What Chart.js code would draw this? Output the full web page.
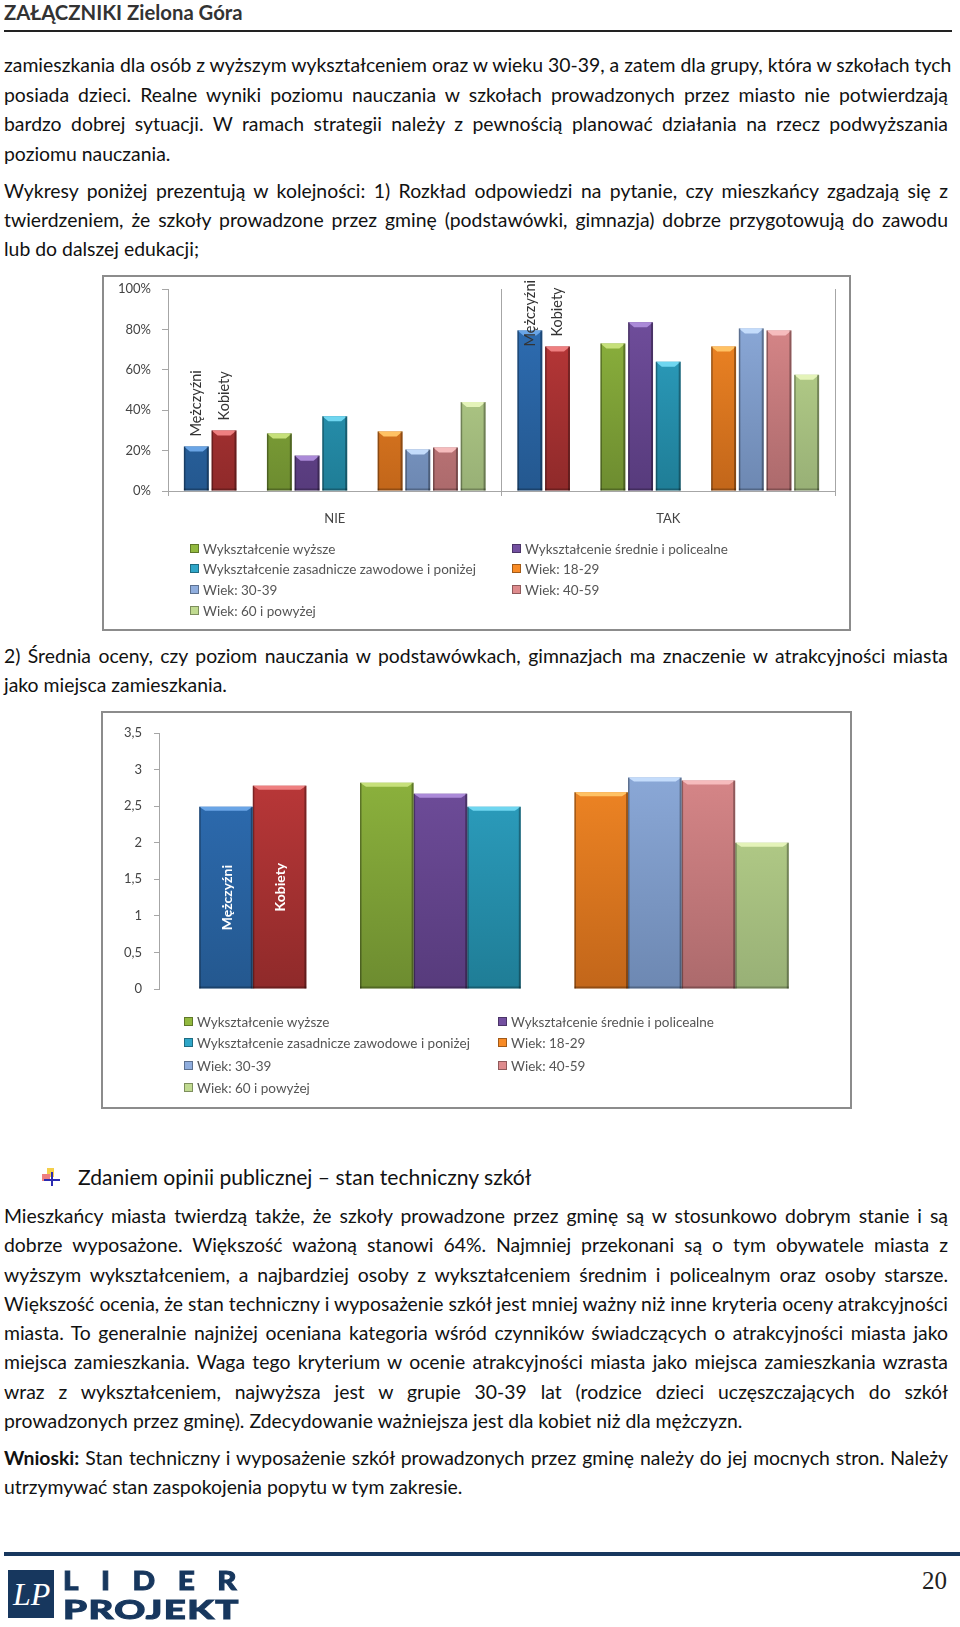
<!DOCTYPE html>
<html lang="pl">
<head>
<meta charset="utf-8">
<title>Załączniki Zielona Góra</title>
<script src="https://cdn.jsdelivr.net/npm/chart.js@4"></script>
<style>
  html, body { margin:0; padding:0; background:#fff; }
  #page { position:relative; width:960px; height:1627px; overflow:hidden; font-family:Lato, sans-serif; color:#111; }
  .line { position:absolute; left:4px; width:944px; font-size:19.4px; line-height:26px; height:26px; white-space:nowrap; }
  .just { text-align:justify; text-align-last:justify; }
  .frame { position:absolute; box-sizing:border-box; border:2px solid #8c8c8c; background:#fff; }
  .frame canvas { position:absolute; left:-2px; top:-2px; }
  .leg { position:absolute; font-size:13.5px; line-height:16px; color:#555; white-space:nowrap; }
  .leg i { position:absolute; left:-13px; top:3px; width:9px; height:9px; border:1px solid rgba(0,0,0,.35); box-sizing:border-box; }
  .logo { position:absolute; font-family:Lato,sans-serif; font-weight:900; color:#17375e; -webkit-text-stroke:1px #17375e; transform-origin:left top; white-space:nowrap; }
</style>
</head>
<body>
<div id="page">
  <div style="position:absolute;left:4px;top:0;font-size:20.3px;line-height:24px;font-weight:700;color:#333">ZAŁĄCZNIKI Zielona Góra</div>
  <div style="position:absolute;left:4px;top:30px;width:948px;height:2px;background:#222"></div>

  <div id="text"></div>

  <div class="frame" id="frame1" style="left:102px;top:275px;width:749px;height:356px"><canvas id="chart1" width="749" height="356"></canvas></div>
  <div class="frame" id="frame2" style="left:101px;top:711px;width:751px;height:398px"><canvas id="chart2" width="751" height="398"></canvas></div>

  <!-- bullet przy naglowku -->
  <div style="position:absolute;left:42px;top:1168px;width:18px;height:18px;filter:blur(.7px)">
    <div style="position:absolute;left:5px;top:0;width:7px;height:9px;background:#f4cf4a"></div>
    <div style="position:absolute;left:0;top:6px;width:8px;height:7px;background:#ee7f7f"></div>
    <div style="position:absolute;left:2px;top:11px;width:16px;height:2px;background:#2b2bb0"></div>
    <div style="position:absolute;left:9px;top:4px;width:2px;height:14px;background:#2b2bb0"></div>
  </div>
  <div style="position:absolute;left:78px;top:1163px;font-size:21.1px;line-height:28px;color:#111">Zdaniem opinii publicznej – stan techniczny szkół</div>

  <div style="position:absolute;left:4px;top:1552px;width:956px;height:4px;background:#17375e"></div>
  <div style="position:absolute;left:8px;top:1570px;width:46px;height:48px;background:#17375e;overflow:hidden">
    <div style="position:absolute;left:5px;top:2px;font:italic 32px/44px 'Liberation Serif',serif;color:#fff">LP</div>
  </div>
  <div class="logo" style="left:63px;top:1566px;font-size:27px;line-height:28px;letter-spacing:20.5px;transform:scaleX(1.1)">LIDER</div>
  <div class="logo" style="left:63px;top:1595px;font-size:27px;line-height:28px;letter-spacing:1px;transform:scaleX(1.42)">PROJEKT</div>
  <div style="position:absolute;left:922px;top:1566px;font:25px/30px 'Liberation Serif',serif;color:#222">20</div>
</div>

<script>
// — Tekst strony —
const pageLines = [
  [65,  1, 'zamieszkania dla osób z wyższym wykształceniem oraz w wieku 30-39, a zatem dla grupy, która w szkołach tych'],
  [95,  1, 'posiada dzieci. Realne wyniki poziomu nauczania w szkołach prowadzonych przez miasto nie potwierdzają'],
  [124, 1, 'bardzo dobrej sytuacji. W ramach strategii należy z pewnością planować działania na rzecz podwyższania'],
  [154, 0, 'poziomu nauczania.'],
  [191, 1, 'Wykresy poniżej prezentują w kolejności: 1) Rozkład odpowiedzi na pytanie, czy mieszkańcy zgadzają się z'],
  [220, 1, 'twierdzeniem, że szkoły prowadzone przez gminę (podstawówki, gimnazja) dobrze przygotowują do zawodu'],
  [249, 0, 'lub do dalszej edukacji;'],
  [656, 1, '2) Średnia oceny, czy poziom nauczania w podstawówkach, gimnazjach ma znaczenie w atrakcyjności miasta'],
  [685, 0, 'jako miejsca zamieszkania.'],
  [1216, 1, 'Mieszkańcy miasta twierdzą także, że szkoły prowadzone przez gminę są w stosunkowo dobrym stanie i są'],
  [1245, 1, 'dobrze wyposażone. Większość ważoną stanowi 64%. Najmniej przekonani są o tym obywatele miasta z'],
  [1275, 1, 'wyższym wykształceniem, a najbardziej osoby z wykształceniem średnim i policealnym oraz osoby starsze.'],
  [1304, 1, 'Większość ocenia, że stan techniczny i wyposażenie szkół jest mniej ważny niż inne kryteria oceny atrakcyjności'],
  [1333, 1, 'miasta. To generalnie najniżej oceniana kategoria wśród czynników świadczących o atrakcyjności miasta jako'],
  [1362, 1, 'miejsca zamieszkania. Waga tego kryterium w ocenie atrakcyjności miasta jako miejsca zamieszkania wzrasta'],
  [1392, 1, 'wraz z wykształceniem, najwyższa jest w grupie 30-39 lat (rodzice dzieci uczęszczających do szkół'],
  [1421, 0, 'prowadzonych przez gminę). Zdecydowanie ważniejsza jest dla kobiet niż dla mężczyzn.'],
  [1458, 1, '<b>Wnioski:</b> Stan techniczny i wyposażenie szkół prowadzonych przez gminę należy do jej mocnych stron. Należy'],
  [1487, 0, 'utrzymywać stan zaspokojenia popytu w tym zakresie.']
];
document.getElementById('text').innerHTML = pageLines.map(l =>
  `<div class="line${l[1] ? ' just' : ''}" style="top:${l[0] - 13}px">${l[2]}</div>`).join('');

// — Dane —
const seriesNames = ['Mężczyźni', 'Kobiety', '', 'Wykształcenie wyższe', 'Wykształcenie średnie i policealne',
  'Wykształcenie zasadnicze zawodowe i poniżej', '', 'Wiek: 18-29', 'Wiek: 30-39', 'Wiek: 40-59', 'Wiek: 60 i powyżej'];
const answerCategories = ['NIE', 'TAK'];
const nieValues = [22, 30, null, 28.5, 17.5, 37, null, 29.5, 20.5, 21.5, 44];
const takValues = [79.5, 71.5, null, 73, 83.5, 64, null, 71.5, 80.5, 79.5, 57.5];
const percentTicks = ['0%', '20%', '40%', '60%', '80%', '100%'];
const meanCategory = ['Średnia'];
const meanValues = [2.49, 2.78, null, 2.82, 2.67, 2.49, null, 2.69, 2.89, 2.85, 2.0];
const meanTicks = ['0', '0,5', '1', '1,5', '2', '2,5', '3', '3,5'];

// kolory slupkow: gora, dol, jasny fazowany pas
const barTop   = ['#2f70b8', '#c23a3b', null, '#92b93f', '#7350a0', '#2fa6c8', null, '#f88b26', '#90aede', '#de8b8d', '#c0da90'];
const barBot   = ['#24588f', '#8f2a2a', null, '#6d8c30', '#573b7c', '#1f7d96', null, '#c2661a', '#6d88b2', '#ac6a6c', '#98b076'];
const barLight = ['#6aa5e6', '#ee7f80', null, '#c6e07a', '#ab8ad8', '#6fd6f0', null, '#ffc264', '#c4dcfb', '#f6bcbd', '#e4f3b9'];

// — Rysuje fazowane krawedzie i opisy na slupkach —
const bevelPlugin = {
  id: 'bevel',
  afterDatasetsDraw(chart, args, opts) {
    const ctx = chart.ctx;
    chart.data.datasets.forEach((ds, i) => {
      if (!barTop[i]) return;
      chart.getDatasetMeta(i).data.forEach((bar, k) => {
        if (ds.data[k] == null) return;
        const l = bar.x - bar.width / 2, r = bar.x + bar.width / 2, t = bar.y, b = bar.base;
        const h = opts.bevelH, ins = opts.bevelW;
        ctx.save();
        ctx.fillStyle = barLight[i];
        ctx.beginPath();
        ctx.moveTo(l, t); ctx.lineTo(r, t); ctx.lineTo(r - ins, t + h); ctx.lineTo(l + ins, t + h);
        ctx.fill();
        ctx.fillStyle = 'rgba(0,0,0,.32)';
        ctx.fillRect(l, t, 1.5, b - t);
        ctx.fillRect(r - 2, t, 2, b - t);
        ctx.fillStyle = 'rgba(0,0,0,.25)';
        ctx.fillRect(l, b - 2, r - l, 2);
        ctx.restore();
      });
    });
    // opisy Mezczyzni / Kobiety
    [0, 1].forEach(i => {
      chart.getDatasetMeta(i).data.forEach(bar => {
        ctx.save();
        ctx.font = opts.labelFont;
        ctx.fillStyle = opts.labelColor;
        const w = ctx.measureText(seriesNames[i]).width;
        let cy;
        if (opts.inside) cy = (bar.y + bar.base) / 2;
        else cy = Math.max(bar.y - 10 - w / 2, chart.chartArea.top - 9 + w / 2);
        ctx.translate(bar.x + (opts.inside ? 1 : 0), cy);
        ctx.rotate(-Math.PI / 2);
        ctx.textAlign = 'center';
        ctx.textBaseline = 'middle';
        ctx.fillText(seriesNames[i], 0, 0);
        ctx.restore();
      });
    });
  }
};

function barGradient(i) {
  if (!barTop[i]) return 'rgba(0,0,0,0)';
  return c => {
    const area = c.chart.chartArea;
    if (!area) return barTop[i];
    const g = c.chart.ctx.createLinearGradient(0, area.top, 0, area.bottom);
    g.addColorStop(0, barTop[i]);
    g.addColorStop(1, barBot[i]);
    return g;
  };
}

function buildDatasets(rows) {
  return seriesNames.map((label, i) => ({
    label,
    data: rows.map(r => r[i]),
    backgroundColor: barGradient(i),
    barPercentage: rows.length > 1 ? 0.9 : 1,
    categoryPercentage: rows.length > 1 ? 0.913 : 0.88
  }));
}

// legenda w dwoch kolumnach, czytana z nazw serii
function buildLegend(frameId, cols, rows) {
  const frame = document.getElementById(frameId);
  const named = seriesNames.map((n, i) => [n, i]).filter(e => e[0] && e[1] > 1);
  named.forEach((e, k) => {
    const d = document.createElement('div');
    d.className = 'leg';
    d.style.left = cols[k % 2] + 'px';
    d.style.top = (rows[Math.floor(k / 2)] - 8) + 'px';
    d.innerHTML = `<i style="background:${barTop[e[1]]}"></i>${e[0]}`;
    frame.appendChild(d);
  });
}

Chart.defaults.font.family = 'Lato, sans-serif';
Chart.defaults.animation = false;

new Chart(document.getElementById('chart1'), {
  type: 'bar',
  data: { labels: answerCategories, datasets: buildDatasets([nieValues, takValues]) },
  plugins: [bevelPlugin],
  options: {
    responsive: false,
    layout: { padding: { top: 14, right: 16, left: 0, bottom: 0 } },
    plugins: {
      legend: { display: false }, tooltip: { enabled: false },
      bevel: { bevelH: 5, bevelW: 6, labelFont: '14.5px Lato, sans-serif', labelColor: '#333', inside: false }
    },
    scales: {
      x: {
        grid: { offset: true, color: '#a6a6a6', tickLength: 5, lineWidth: 1 },
        border: { color: '#a6a6a6' },
        ticks: { color: '#444', font: { size: 13 }, padding: 15 },
        afterFit: s => { s.height = 140; s.paddingTop = 0; }
      },
      y: {
        min: 0, max: 100,
        grid: { drawOnChartArea: false, color: '#a6a6a6', tickLength: 6 },
        border: { color: '#a6a6a6' },
        ticks: { stepSize: 20, color: '#444', font: { size: 13 }, padding: 11,
          callback: (v, i) => percentTicks[i] },
        afterFit: s => { s.width = 66; s.paddingTop = 0; s.paddingBottom = 0; }
      }
    }
  }
});

new Chart(document.getElementById('chart2'), {
  type: 'bar',
  data: { labels: meanCategory, datasets: buildDatasets([meanValues]) },
  plugins: [bevelPlugin],
  options: {
    responsive: false,
    layout: { padding: { top: 22, right: 23, left: 0, bottom: 120 } },
    plugins: {
      legend: { display: false }, tooltip: { enabled: false },
      bevel: { bevelH: 4, bevelW: 6, labelFont: 'bold 14px Lato, sans-serif', labelColor: '#fff', inside: true }
    },
    scales: {
      x: { display: false },
      y: {
        min: 0, max: 3.5,
        grid: { drawOnChartArea: false, color: '#a6a6a6', tickLength: 5 },
        border: { color: '#a6a6a6' },
        ticks: { stepSize: 0.5, color: '#444', font: { size: 13 }, padding: 12,
          callback: (v, i) => meanTicks[i] },
        afterFit: s => { s.width = 58; }
      }
    }
  }
});

buildLegend('frame1', [99, 421], [272, 292, 313, 334]);
buildLegend('frame2', [94, 408], [308.5, 329.5, 352.5, 374.5]);
</script>
</body>
</html>
